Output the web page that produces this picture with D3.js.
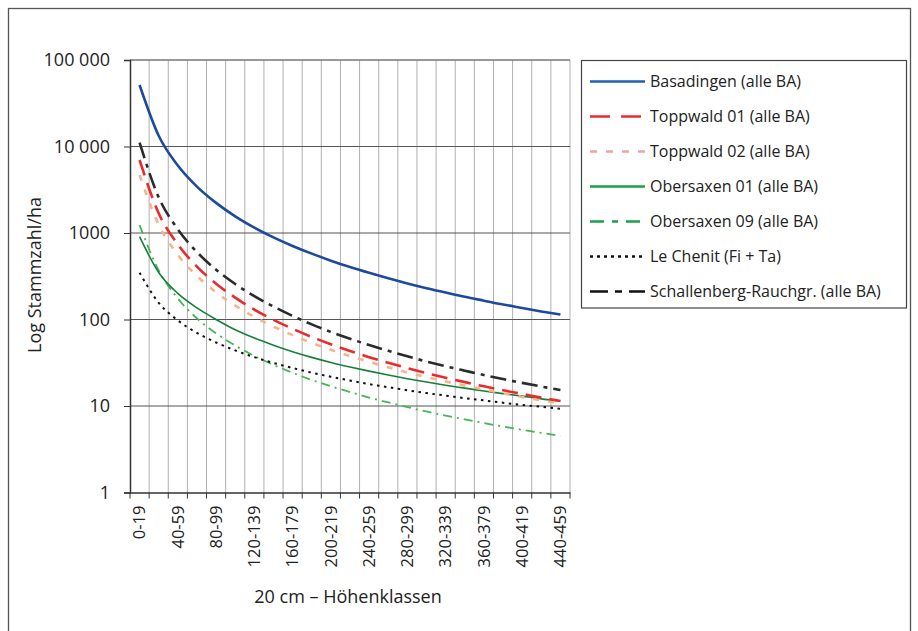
<!DOCTYPE html>
<html><head><meta charset="utf-8">
<script src="https://cdn.jsdelivr.net/npm/d3@7"></script>
<style>
body{margin:0;background:#fff;}
svg{display:block;font-family:"Open Sans",sans-serif;}
</style></head><body>
<svg id="c" width="918" height="631"></svg>
<script>
const categories = ["0-19","20-39","40-59","60-79","80-99","100-119","120-139","140-159","160-179","180-199","200-219","220-239","240-259","260-279","280-299","300-319","320-339","340-359","360-379","380-399","400-419","420-439","440-459"];
const basadingen = [51400,13300,6030,3440,2230,1560,1155,890,708,577,479,404,346,299,261,230,205,183,165,149,136,124,114];
const toppwald01 = [6980,1690,738,409,259,179,130,99,78,62.8,51.7,43.3,36.7,31.6,27.4,24.0,21.2,18.9,16.9,15.2,13.8,12.5,11.4];
const toppwald02 = [4680,1250,560,318,206,145,107,82.8,65.9,53.7,44.7,37.7,32.3,28.0,24.4,21.6,19.2,17.2,15.5,14.0,12.7,11.6,10.7];
const obersaxen01 = [906,350,200,136,100,76,61,50.5,42.5,36.5,31.9,28.3,25.3,22.8,20.7,18.9,17.4,16.1,14.9,13.9,13.0,12.1,11.4];
const obersaxen09 = [1236,370,175,103,69.3,50,37.9,29.9,24.2,20.0,16.9,14.5,12.5,11.0,9.7,8.65,7.75,7.0,6.35,5.79,5.31,4.89,4.51];
const leChenit = [348,156,97.7,70.1,54.2,43.9,36.7,31.5,27.5,24.3,21.8,19.7,17.9,16.5,15.2,14.1,13.2,12.3,11.6,10.9,10.3,9.8,9.3];
const schallenberg = [11070,2582,1102,602,377,257,186,141,110,87.9,71.9,60.0,50.7,43.4,37.5,32.7,28.8,25.6,22.8,20.5,18.5,16.8,15.3];
const yTicks = [1,10,100,1000,10000,100000];
const yTickLabels = ["1","10","100","1000","10 000","100 000"];
const seriesNames = ["Basadingen (alle BA)","Toppwald 01 (alle BA)","Toppwald 02 (alle BA)","Obersaxen 01 (alle BA)","Obersaxen 09 (alle BA)","Le Chenit (Fi + Ta)","Schallenberg-Rauchgr. (alle BA)"];
const seriesData = [basadingen,toppwald01,toppwald02,obersaxen01,obersaxen09,leChenit,schallenberg];
const seriesStyle = [
  {color:"#1d4a9e", width:2.6, dash:null, ldash:null},
  {color:"#ec2a2e", width:2.6, dash:"16,8", ldash:"20,11"},
  {color:"#f6b48d", width:2.6, dash:"6,9", ldash:"7,9"},
  {color:"#17803a", width:1.6, dash:null, ldash:null},
  {color:"#45b556", width:1.8, dash:"9,5,2,5", ldash:"14,8,6,8"},
  {color:"#111111", width:2, dash:"2.5,4.5", ldash:"3,4"},
  {color:"#2b2b2b", width:2.6, dash:"16,6,4,6", ldash:"18,7,7,7"}
];
const legendColors = ["#1d62b0","#ec2a2e","#f4a2a0","#1aa148","#1aa148","#111111","#111111"];

const svg = d3.select("#c");
const L=130, R=570, T=60, B=492.5;
const x = d3.scaleBand().domain(categories).range([L,R]).paddingInner(0).paddingOuter(0);
const y = d3.scaleLog().domain([1,100000]).range([B,T]);

// outer frame
svg.append("rect").attr("x",8.5).attr("y",8.5).attr("width",902).attr("height",640)
  .attr("fill","none").attr("stroke","#555").attr("stroke-width",1.3);

// vertical gridlines
const bounds = categories.map(c=>x(c)).concat([R]);
svg.append("g").selectAll("line").data(bounds.slice(1)).join("line")
  .attr("x1",d=>d).attr("x2",d=>d).attr("y1",T).attr("y2",B)
  .attr("stroke","#b0b0b0").attr("stroke-width",1);
svg.append("line").attr("x1",L).attr("x2",R).attr("y1",T).attr("y2",T).attr("stroke","#bbb").attr("stroke-width",1);
svg.append("g").selectAll("line").data(yTicks.slice(1)).join("line")
  .attr("x1",L).attr("x2",R).attr("y1",d=>y(d)).attr("y2",d=>y(d))
  .attr("stroke","#555").attr("stroke-width",1);

// y axis
const yAxis = d3.axisLeft(y).tickValues(yTicks).tickSize(6).tickPadding(14)
  .tickFormat((d,i)=>yTickLabels[i]);
const gy = svg.append("g").attr("transform",`translate(${L},0)`).call(yAxis);
gy.select(".domain").attr("stroke","#333").attr("stroke-width",1.5);
gy.selectAll(".tick line").attr("stroke","#333");
gy.selectAll(".tick text").attr("font-size",18).attr("fill","#222").attr("font-family","Open Sans, sans-serif");

// x axis
const xAxis = d3.axisBottom(x).tickSize(0).tickFormat((d,i)=> i%2===0 ? d : "");
const gx = svg.append("g").attr("transform",`translate(0,${B})`).call(xAxis);
gx.select(".domain").attr("stroke","#333").attr("stroke-width",1.5);
gx.selectAll(".tick text").attr("font-size",16.5).attr("fill","#222").attr("font-family","Open Sans, sans-serif")
  .attr("transform","rotate(-90)").attr("text-anchor","end").attr("dx","-13").attr("dy","0.35em").attr("y",0);
svg.append("g").selectAll("line").data(bounds).join("line")
  .attr("x1",d=>d).attr("x2",d=>d).attr("y1",B).attr("y2",B+6)
  .attr("stroke","#333").attr("stroke-width",1);

// axis titles
svg.append("text").attr("x",348).attr("y",603).attr("text-anchor","middle")
  .attr("font-size",18).attr("fill","#222").text("20 cm – Höhenklassen");
svg.append("text").attr("transform",`translate(41,275) rotate(-90)`).attr("text-anchor","middle")
  .attr("font-size",18).attr("fill","#222").text("Log Stammzahl/ha");

// lines
const line = d3.line().x((d,i)=>x(categories[i])+x.bandwidth()/2).y(d=>y(d)).curve(d3.curveMonotoneX);
const order = [4,5,3,2,1,6,0];
order.forEach(k=>{
  const s = seriesStyle[k];
  svg.append("path").datum(seriesData[k]).attr("d",line)
    .attr("fill","none").attr("stroke",s.color).attr("stroke-width",s.width)
    .attr("stroke-dasharray",s.dash).attr("stroke-linecap","butt");
});

// legend
const lg = svg.append("g");
lg.append("rect").attr("x",581.5).attr("y",60.5).attr("width",325).attr("height",247.5)
  .attr("fill","#fff").attr("stroke","#444").attr("stroke-width",1.2);
seriesNames.forEach((n,i)=>{
  const yy = 81.5 + i*35;
  const s = seriesStyle[i];
  lg.append("line").attr("x1",590).attr("x2",645).attr("y1",yy).attr("y2",yy)
    .attr("stroke",legendColors[i]).attr("stroke-width",2.4).attr("stroke-dasharray",s.ldash);
  lg.append("text").attr("x",650).attr("y",yy).attr("dy","0.35em")
    .attr("font-size",16).attr("fill","#222").text(n);
});
</script></body></html>
